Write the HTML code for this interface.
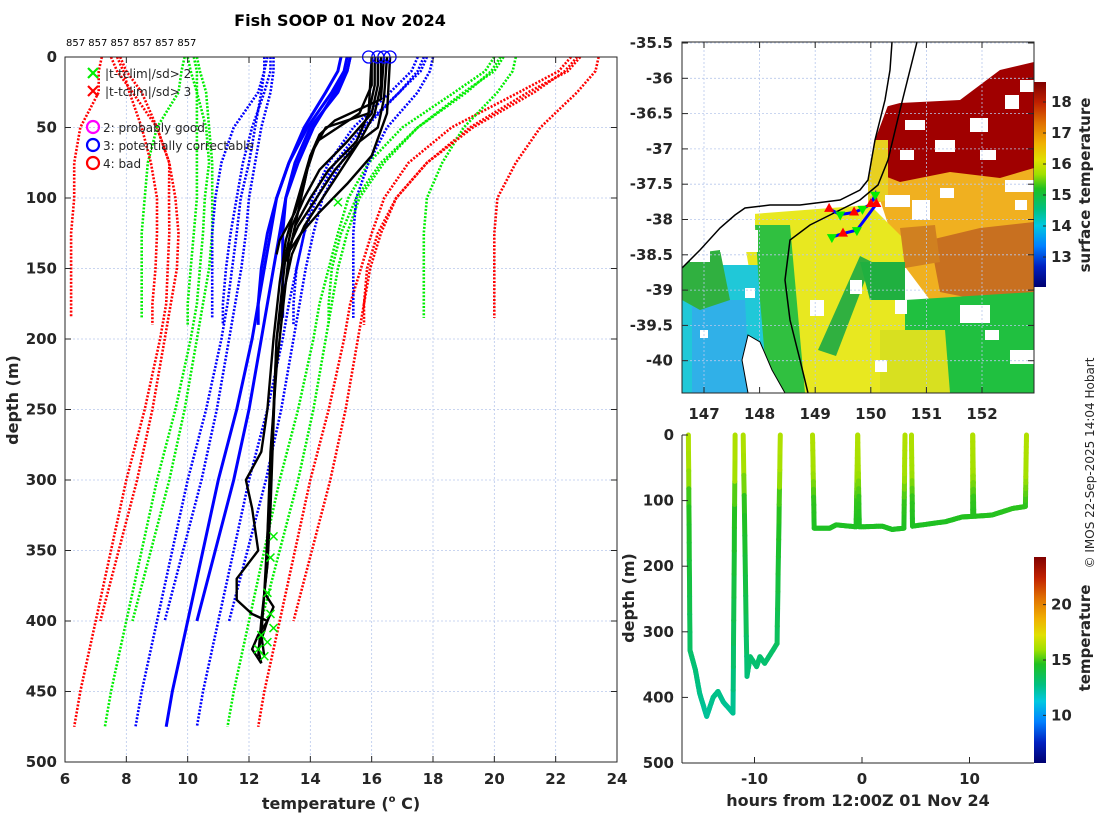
<!DOCTYPE html>
<html><head><meta charset="utf-8"><style>
body{margin:0;background:#fff;}
svg{display:block;font-family:"DejaVu Sans","Liberation Sans",sans-serif;}
.tk{font-size:15px;font-weight:bold;fill:#262626;}
</style></head><body>
<svg id="s" width="1100" height="820" viewBox="0 0 1100 820" xmlns="http://www.w3.org/2000/svg">
<defs>
<linearGradient id="jet" x1="0" y1="0" x2="0" y2="1">
<stop offset="0" stop-color="#800000"/><stop offset="0.1" stop-color="#c02000"/><stop offset="0.2" stop-color="#e07000"/><stop offset="0.3" stop-color="#f0b000"/><stop offset="0.38" stop-color="#e0e000"/><stop offset="0.45" stop-color="#a0e000"/><stop offset="0.52" stop-color="#20c020"/><stop offset="0.62" stop-color="#00c080"/><stop offset="0.7" stop-color="#00c8e0"/><stop offset="0.8" stop-color="#0080ff"/><stop offset="0.9" stop-color="#0020c0"/><stop offset="1" stop-color="#000070"/>
</linearGradient>
<clipPath id="mapclip"><rect x="682" y="42" width="352" height="351"/></clipPath>
<clipPath id="mainclip"><rect x="65" y="57" width="552" height="705"/></clipPath>
</defs>
<text x="340" y="26" text-anchor="middle" font-size="16" font-weight="bold" fill="#000">Fish SOOP 01 Nov 2024</text>
<text x="66" y="46" font-size="10" fill="#000">857 857 857 857 857 857</text>
<g id="main"></g>
<g id="map"></g>
<g id="bot"></g>
<text transform="translate(1094,463) rotate(-90)" text-anchor="middle" font-size="12" fill="#262626">© IMOS 22-Sep-2025 14:04 Hobart</text>
</svg>
<script>
// ---------- main profile chart data ----------
const climDepths=[0,10,25,50,75,100,125,150,175,200,250,300,350,400,450,475];
const climMeanA=[15.0,14.9,14.5,13.8,13.3,12.9,12.7,12.5,12.3,12.1,11.6,11.0,10.5,10.0,9.5,9.3];
const climSdA=[2.5,2.4,2.1,1.6,1.3,1.17,1.1,1.05,1.0,1.0,1.0,1.0,1.0,1.0,1.0,1.0];
const climMeanB=[15.3,15.2,14.8,14.1,13.6,13.2,13.0,12.8,12.6,12.4,12.0,11.5,10.9,10.3];
const climSdB=[2.5,2.4,2.1,1.7,1.4,1.2,1.1,1.05,1.05,1.05,1.05,1.05,1.05,1.05];
const climMeanC=[15.3,15.2,14.9,14.0,13.5,13.2,13.1,13.1,13.1,13.1];
const climSdC=[2.7,2.7,2.6,2.5,2.4,2.3,2.3,2.3,2.3,2.3];
const climMeanD=[15.2,15.1,14.7,13.9,13.3,12.9,12.6,12.4,12.3,12.3];
const climSdD=[2.5,2.4,2.2,1.8,1.5,1.3,1.2,1.15,1.15,1.15];
const climMaxDepth=[475,400,185,190];
const xbtDepths=[
[0,20,40,60,80,100,120,140,160,200,250,300,340,360,380,390,400,420,430],
[0,20,40,50,70,100,130,160,200,250,280,300,320,350,370,385,395,400,410,420,430],
[0,20,40,60,80,100,120,140],
[0,20,40,60,80,100,120,140,145],
[0,30,50,60,80,100,120,140,170,200,260,320,360,400,425],
[0,30,45,55,70,90,110,130,140],
[0,40,70,90,110,125,135,145],
[0,40,60,80,100,120,140,180,220,280,340,380,410,425]];
const xbtTemps=[
[16.2,16.2,16.0,15.2,14.3,13.8,13.4,13.2,13.1,12.9,12.8,12.7,12.6,12.6,12.5,12.8,12.6,12.3,12.4],
[16.1,16.1,15.9,14.5,14.0,13.6,13.2,13.0,12.8,12.6,12.4,11.9,12.1,12.3,11.6,11.6,12.1,12.6,12.3,12.1,12.4],
[16.3,16.3,16.1,15.6,14.8,14.2,13.6,13.2],
[16.0,16.0,15.6,14.2,13.9,13.7,13.5,13.3,13.2],
[16.5,16.4,16.2,15.6,15.0,14.4,13.8,13.4,13.1,12.9,12.8,12.7,12.6,12.4,12.3],
[16.4,16.3,14.8,14.3,14.0,13.8,13.5,13.0,12.9],
[16.6,16.5,16.0,15.2,14.3,13.7,13.4,13.1],
[16.0,15.9,15.5,14.6,14.0,13.5,13.3,13.1,12.9,12.7,12.6,12.5,12.4,12.5]];
const flagTemps=[12.8,12.7,12.6,12.7,12.8,12.4,12.3,12.5,12.6,14.9];
const flagDepths=[340,355,380,395,405,410,420,425,415,103];
const circleTemps=[15.9,16.2,16.4,16.6];
const xTicks=[6,8,10,12,14,16,18,20,22,24];
const yTicks=[0,50,100,150,200,250,300,350,400,450,500];
// ---------- map data ----------
const mapLonTicks=[147,148,149,150,151,152];
const mapLatTicks=[-35.5,-36,-36.5,-37,-37.5,-38,-38.5,-39,-39.5,-40];
const sstTicks=[13,14,15,16,17,18];
const trackLon=[149.25,149.45,149.7,149.85,150.0,150.08,150.1,149.75,149.5,149.3];
const trackLat=[-37.85,-37.93,-37.9,-37.85,-37.78,-37.65,-37.78,-38.15,-38.2,-38.25];
// ---------- section plot data ----------
const secHours=[[-16.15,-16.0,-15.5,-15.1,-14.45,-13.85,-13.4,-12.9,-12.0,-11.8],
[-11.05,-10.7,-10.4,-9.8,-9.5,-9.05,-7.9,-7.6],
[-4.6,-4.45,-3.0,-2.4,-0.55,-0.4,-0.25,1.9,2.8,3.9,4.0],
[4.6,4.7,7.8,9.3,10.3,10.3,10.4,12.1,14.0,15.2,15.3]];
const secDepths=[[0,328,358,394,429,400,391,407,424,0],
[0,368,338,353,338,348,318,0],
[0,142,142,137,140,0,140,139,144,142,0],
[0,139,132,125,124,0,124,122,112,109,0]];
const tempProfileDepth=[0,60,100,150,300,420];
const tempProfileTemp=[16.3,16.0,14.8,14.5,13.5,12.4];
const secXTicks=[-10,0,10];
const secYTicks=[0,100,200,300,400,500];
const tempCbTicks=[10,15,20];

const NS="http://www.w3.org/2000/svg";
function mk(parent,tag,attrs){const e=document.createElementNS(NS,tag);for(const k in attrs)e.setAttribute(k,attrs[k]);parent.appendChild(e);return e;}
function txt(parent,x,y,s,attrs){const e=mk(parent,'text',Object.assign({x:x,y:y},attrs||{}));e.textContent=s;return e;}
function interp(xs,ys,x){if(x<=xs[0])return ys[0];for(let i=1;i<xs.length;i++){if(x<=xs[i]){const f=(x-xs[i-1])/(xs[i]-xs[i-1]);return ys[i-1]+f*(ys[i]-ys[i-1]);}}return ys[ys.length-1];}
const jetStops=[[0,[128,0,0]],[0.1,[192,32,0]],[0.2,[224,112,0]],[0.3,[240,176,0]],[0.38,[224,224,0]],[0.45,[160,224,0]],[0.52,[32,192,32]],[0.62,[0,192,128]],[0.7,[0,200,224]],[0.8,[0,128,255]],[0.9,[0,32,192]],[1,[0,0,112]]];
function jet(f){f=Math.max(0,Math.min(1,f));for(let i=1;i<jetStops.length;i++){if(f<=jetStops[i][0]){const a=jetStops[i-1],b=jetStops[i];const t=(f-a[0])/(b[0]-a[0]);const c=a[1].map((v,j)=>Math.round(v+t*(b[1][j]-v)));return 'rgb('+c.join(',')+')';}}return 'rgb(0,0,112)';}

// ================= MAIN =================
(function(){
const g=document.getElementById('main');
const X=t=>65+(t-6)*552/18, Y=d=>57+d*705/500;
const grid=mk(g,'g',{});


xTicks.forEach(t=>{mk(grid,'line',{x1:X(t),x2:X(t),y1:57,y2:762,stroke:'#b8c8ec','stroke-width':0.8,'stroke-dasharray':'2,2'});});
yTicks.forEach(d=>{mk(grid,'line',{x1:65,x2:617,y1:Y(d),y2:Y(d),stroke:'#b8c8ec','stroke-width':0.8,'stroke-dasharray':'2,2'});});
const lines=mk(g,'g',{'clip-path':'url(#mainclip)'});
const means=[climMeanA,climMeanB,climMeanC,climMeanD], sds=[climSdA,climSdB,climSdC,climSdD];
const cols={1:'#0000ff',2:'#00ee00',3:'#ff0000'};
means.forEach((m,li)=>{
  const maxd=climMaxDepth[li];
  const depths=[];const mv=[];const sv=[];
  for(let i=0;i<m.length;i++){if(climDepths[i]<=maxd){depths.push(climDepths[i]);mv.push(m[i]);sv.push(sds[li][i]);}}
  if(depths[depths.length-1]<maxd){depths.push(maxd);mv.push(m[m.length-1]);sv.push(sds[li][m.length-1]);}
  [3,2,1].forEach(k=>{[-1,1].forEach(sg=>{
    const pts=depths.map((d,i)=>X(mv[i]+sg*k*sv[i]).toFixed(1)+','+Y(d).toFixed(1)).join(' ');
    const p=mk(lines,'polyline',{points:pts,fill:'none',stroke:cols[k],'stroke-width':2.6,'stroke-dasharray':'2,1.6'});
    
    
  });});
  const pts=depths.map((d,i)=>X(mv[i]).toFixed(1)+','+Y(d).toFixed(1)).join(' ');
  const p=mk(lines,'polyline',{points:pts,fill:'none',stroke:'#0000ff','stroke-width':3});
  
  
});
xbtTemps.forEach((ts,i)=>{
  const pts=ts.map((t,j)=>X(t).toFixed(1)+','+Y(xbtDepths[i][j]).toFixed(1)).join(' ');
  const p=mk(lines,'polyline',{points:pts,fill:'none',stroke:'#000','stroke-width':2.4,'stroke-linejoin':'round'});
  
  
});
flagTemps.forEach((t,i)=>{
  const x=X(t),y=Y(flagDepths[i]);
  const p=mk(lines,'path',{d:`M${x-4},${y-4}L${x+4},${y+4}M${x-4},${y+4}L${x+4},${y-4}`,stroke:'#00ee00','stroke-width':1.5});
  
  
});
circleTemps.forEach((t,i)=>{
  const c=mk(g,'circle',{cx:X(t),cy:Y(0),r:6,fill:'none',stroke:'#0000ff','stroke-width':1.3});
  
  
});
mk(g,'rect',{x:65,y:57,width:552,height:705,fill:'none',stroke:'#262626','stroke-width':1});
xTicks.forEach(t=>{mk(g,'line',{x1:X(t),x2:X(t),y1:762,y2:756,stroke:'#262626'});mk(g,'line',{x1:X(t),x2:X(t),y1:57,y2:63,stroke:'#262626'});
  const e=txt(g,X(t),784,String(t),{'text-anchor':'middle',class:'tk'});});
yTicks.forEach(d=>{mk(g,'line',{x1:65,x2:71,y1:Y(d),y2:Y(d),stroke:'#262626'});mk(g,'line',{x1:611,x2:617,y1:Y(d),y2:Y(d),stroke:'#262626'});
  const e=txt(g,57,Y(d)+5,String(d),{'text-anchor':'end',class:'tk'});});
const xt=txt(g,341,809,'',{'text-anchor':'middle','font-size':'16','font-weight':'bold',fill:'#262626'});
xt.innerHTML='temperature (<tspan font-size="10" dy="-7">o</tspan><tspan dy="7"> C)</tspan>';

const yt=txt(g,0,0,'depth (m)',{transform:'translate(18,400) rotate(-90)','text-anchor':'middle','font-size':'16','font-weight':'bold',fill:'#262626'});

const lg=mk(g,'g',{});


const lx=93;
[['#00ee00',73,'|t-tclim|/sd> 2'],['#ff0000',91,'|t-tclim|/sd> 3']].forEach(a=>{
  mk(lg,'path',{d:`M${lx-5},${a[1]-5}L${lx+5},${a[1]+5}M${lx-5},${a[1]+5}L${lx+5},${a[1]-5}`,stroke:a[0],'stroke-width':2.2});
  txt(lg,lx+12,a[1]+5,a[2],{'font-size':'12',fill:'#262626'});
});
[['#ff00ff',127,'2: probably good'],['#0000ff',145,'3: potentially correctable'],['#ff0000',163,'4: bad']].forEach(a=>{
  mk(lg,'circle',{cx:lx,cy:a[1],r:6,fill:'none',stroke:a[0],'stroke-width':2.2});
  txt(lg,lx+10,a[1]+5,a[2],{'font-size':'12',fill:'#262626'});
});
})();

// ================= MAP =================
(function(){
const g=document.getElementById('map');
const X=lon=>704+(lon-147)*55.6, Y=lat=>43+(-35.5-lat)*70.6;
const c=mk(g,'g',{'clip-path':'url(#mapclip)'});


mk(c,'rect',{x:682,y:42,width:352,height:351,fill:'#fff'});
const polys=[
['#f0b020','880,160 1034,160 1034,300 930,300 900,260 880,200'],
['#e8e820','740,215 870,205 905,240 905,393 770,393'],
['#20c8d8','682,265 762,265 772,300 770,393 682,393'],
['#30b0e8','692,300 745,300 750,393 692,393'],
['#30c040','755,225 790,225 805,393 768,393 760,300'],
['#30b040','682,255 720,250 730,300 700,310 682,300'],
['#c87020','930,240 980,228 1034,222 1034,292 990,302 940,292'],
['#d08020','900,228 935,225 940,262 905,268'],
['#20c040','905,300 1034,292 1034,393 905,393'],
['#d8e020','880,330 945,330 950,393 880,393'],
['#30b040','818,350 836,356 872,262 860,256'],
['#20b040','860,262 905,262 905,300 870,300'],
['#a00000','873,110 900,103 960,100 1000,70 1034,62 1034,168 1000,178 950,172 900,182 874,172'],
['#e8d020','868,140 888,140 888,200 868,205'],
['#ffffff','682,42 905,42 890,100 875,140 868,180 860,190 840,200 800,205 770,205 745,208 735,215 720,228 700,250 682,268']];
polys.forEach(p=>{const e=mk(c,'polygon',{points:p[1],fill:p[0]});});
const holes=[[885,195,25,12],[912,200,18,20],[940,188,14,10],[1005,180,29,12],[1015,200,12,10],[700,212,55,18],[720,230,38,22],[690,250,20,12],[960,305,30,18],[985,330,14,10],[895,300,12,14],[850,280,12,14],[810,300,14,16],[875,360,12,12],[1010,350,24,14],[905,120,20,10],[935,140,20,12],[970,118,18,14],[1005,95,14,14],[980,150,16,10],[900,150,14,10],[1020,80,14,12],[745,288,10,10],[700,330,8,8]];
holes.forEach(h=>{const e=mk(c,'rect',{x:h[0],y:h[1],width:h[2],height:h[3],fill:'#fff'});});
mapLonTicks.forEach(l=>mk(c,'line',{x1:X(l),x2:X(l),y1:42,y2:393,stroke:'#b8c8ec','stroke-width':0.8,'stroke-dasharray':'2,2'}));
mapLatTicks.forEach(l=>mk(c,'line',{x1:682,x2:1034,y1:Y(l),y2:Y(l),stroke:'#b8c8ec','stroke-width':0.8,'stroke-dasharray':'2,2'}));
const coast=mk(c,'polyline',{points:'682,268 700,250 720,228 735,215 745,208 770,205 800,205 840,200 860,190 868,180 875,140 880,120 885,100 890,70 892,42',fill:'none',stroke:'#000','stroke-width':1.5});

const bd=mk(c,'polyline',{points:'917,42 900,110 888,160 878,185 860,200 840,210 810,225 790,240 785,280 790,320 800,360 808,393',fill:'none',stroke:'#000','stroke-width':1.5});

mk(c,'polygon',{points:'748,335 760,342 772,370 785,393 748,393 742,360',fill:'#fff',stroke:'#000','stroke-width':1});
const tp=trackLon.map((l,i)=>X(l).toFixed(1)+','+Y(trackLat[i]).toFixed(1)).join(' ');
const tr=mk(c,'polyline',{points:tp,fill:'none',stroke:'#0000ff','stroke-width':3});

trackLon.forEach((l,i)=>{const x=X(l),y=Y(trackLat[i]);
  if(i%2===0){const t=mk(c,'polygon',{points:`${x},${y-6} ${x-5},${y+3} ${x+5},${y+3}`,fill:'#ff0000'});}
  else{const t=mk(c,'polygon',{points:`${x},${y+6} ${x-5},${y-3} ${x+5},${y-3}`,fill:'#00ee00'});}
});
mk(g,'rect',{x:682,y:42,width:352,height:351,fill:'none',stroke:'#262626'});
mapLonTicks.forEach(l=>{mk(g,'line',{x1:X(l),x2:X(l),y1:393,y2:387,stroke:'#262626'});mk(g,'line',{x1:X(l),x2:X(l),y1:42,y2:48,stroke:'#262626'});
  const e=txt(g,X(l),419,String(l),{'text-anchor':'middle',class:'tk'});});
mapLatTicks.forEach(l=>{mk(g,'line',{x1:682,x2:688,y1:Y(l),y2:Y(l),stroke:'#262626'});mk(g,'line',{x1:1028,x2:1034,y1:Y(l),y2:Y(l),stroke:'#262626'});
  const e=txt(g,673,Y(l)+5,String(l),{'text-anchor':'end',class:'tk'});});
const cb=mk(g,'rect',{x:1034,y:82,width:12,height:205,fill:'url(#jet)'});

const CY=t=>102+(18-t)*31;
sstTicks.forEach(t=>{mk(g,'line',{x1:1043,x2:1046,y1:CY(t),y2:CY(t),stroke:'#262626'});
  const e=txt(g,1051,CY(t)+5,String(t),{class:'tk','font-size':'13'});});
const ct=txt(g,0,0,'surface temperature',{transform:'translate(1090,185) rotate(-90)','text-anchor':'middle','font-size':'15','font-weight':'bold',fill:'#262626'});

})();

// ================= SECTION =================
(function(){
const g=document.getElementById('bot');
const X=h=>862+h*10.75, Y=d=>435+d*0.656;
const T2f=t=>(24.3-t)/18.6;
secHours.forEach((hs,si)=>{
  const seg=mk(g,'g',{});
  
  
  for(let i=1;i<hs.length;i++){
    const n=12;
    for(let k=0;k<n;k++){
      const a=k/n,b=(k+1)/n;
      const h1=hs[i-1]+a*(hs[i]-hs[i-1]),h2=hs[i-1]+b*(hs[i]-hs[i-1]);
      const d1=secDepths[si][i-1]+a*(secDepths[si][i]-secDepths[si][i-1]),d2=secDepths[si][i-1]+b*(secDepths[si][i]-secDepths[si][i-1]);
      const t=interp(tempProfileDepth,tempProfileTemp,(d1+d2)/2);
      mk(seg,'line',{x1:X(h1).toFixed(1),y1:Y(d1).toFixed(1),x2:X(h2).toFixed(1),y2:Y(d2).toFixed(1),stroke:jet(T2f(t)),'stroke-width':5,'stroke-linecap':'round'});
    }
  }
});
mk(g,'line',{x1:682,x2:682,y1:435,y2:763,stroke:'#262626'});
mk(g,'line',{x1:682,x2:1034,y1:763,y2:763,stroke:'#262626'});
secXTicks.forEach(h=>{mk(g,'line',{x1:X(h),x2:X(h),y1:763,y2:757,stroke:'#262626'});
  const e=txt(g,X(h),784,String(h),{'text-anchor':'middle',class:'tk'});});
secYTicks.forEach(d=>{mk(g,'line',{x1:682,x2:688,y1:Y(d),y2:Y(d),stroke:'#262626'});
  const e=txt(g,674,Y(d)+5,String(d),{'text-anchor':'end',class:'tk'});});
const xt=txt(g,858,806,'hours from 12:00Z 01 Nov 24',{'text-anchor':'middle','font-size':'16','font-weight':'bold',fill:'#262626'});

const yt=txt(g,0,0,'depth (m)',{transform:'translate(634,598) rotate(-90)','text-anchor':'middle','font-size':'16','font-weight':'bold',fill:'#262626'});

const cb=mk(g,'rect',{x:1034,y:557,width:12,height:206,fill:'url(#jet)'});

const CY=t=>557+T2f(t)*206;
tempCbTicks.forEach(t=>{mk(g,'line',{x1:1043,x2:1046,y1:CY(t),y2:CY(t),stroke:'#262626'});
  const e=txt(g,1051,CY(t)+5,String(t),{class:'tk','font-size':'13'});});
const ct=txt(g,0,0,'temperature',{transform:'translate(1090,638) rotate(-90)','text-anchor':'middle','font-size':'15','font-weight':'bold',fill:'#262626'});

})();
</script>
</body></html>
